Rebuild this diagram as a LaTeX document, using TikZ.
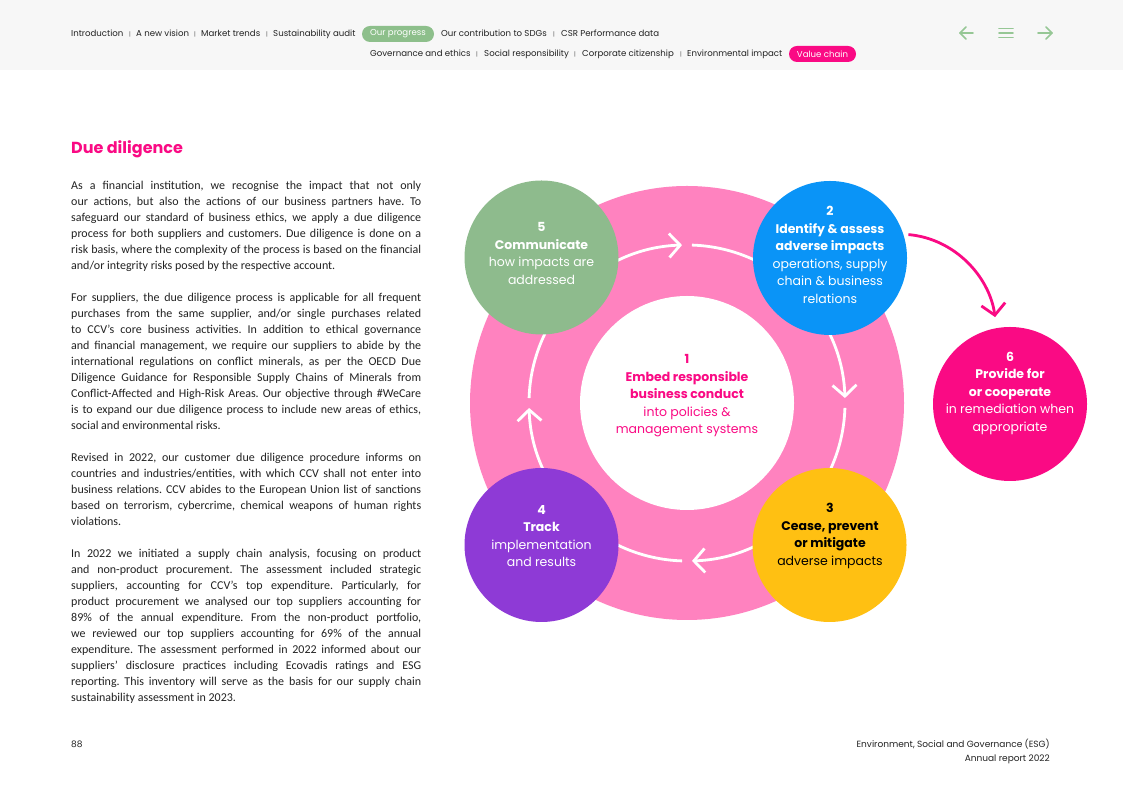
\documentclass[tikz,border=0pt]{standalone}
\usepackage{fontspec}
\setmainfont{Poppins}
\newfontfamily\bodyfont{Carlito}
\usetikzlibrary{arrows.meta}
\definecolor{ringpink}{HTML}{FF82BF}
\definecolor{cgreen}{HTML}{8EBB8D}
\definecolor{cblue}{HTML}{0A94F7}
\definecolor{cyellow}{HTML}{FFC012}
\definecolor{cpurple}{HTML}{8E3AD6}
\definecolor{cmagenta}{HTML}{FA0A84}
\definecolor{hdrbg}{HTML}{F7F7F7}
\definecolor{navgreen}{HTML}{8DBF8B}
\definecolor{icongreen}{HTML}{96C795}
\definecolor{bodytext}{HTML}{222222}
\definecolor{sepgray}{HTML}{555555}
\begin{document}
\begin{tikzpicture}[x=1pt,y=1pt,
  navtext/.style={font=\fontsize{8.6}{10}\selectfont, text=bodytext, inner sep=0, anchor=base west},
  navsep/.style={font=\fontsize{6}{7}\selectfont, text=sepgray, inner sep=0, anchor=base},
  pill/.style={rounded corners=8pt, minimum height=16pt, inner sep=0, text=white, font=\fontsize{8.6}{10}\selectfont},
  navicon/.style={draw=icongreen, line width=1.6pt, line cap=round, line join=round},
  bubble/.style={circle, minimum size=154pt, inner sep=0, draw=none},
  bubbletext/.style={align=center, inner sep=0, font=\fontsize{12.5}{17.5}\selectfont},
  ringarrow/.style={draw=white, line width=2.8pt, -{Straight Barb[length=11pt,width=24pt]}},
  pinkarrow/.style={draw=cmagenta, line width=2.8pt, -{Straight Barb[length=11pt,width=24pt]}},
  foot/.style={font=\fontsize{9}{11}\selectfont, text=bodytext, inner sep=0}
]
\useasboundingbox (0,0) rectangle (1123,794);
\fill[white] (0,0) rectangle (1123,794);
\fill[hdrbg] (0,724) rectangle (1123,794);

% header row 1
\node[navtext] (h1) at (71,757) {Introduction};
\node[navsep] (s1) at (130,757) {|};
\node[navtext] (h2) at (136,757) {A new vision};
\node[navsep] (s2) at (195,757) {|};
\node[navtext] (h3) at (201,757) {Market trends};
\node[navsep] (s3) at (267,757) {|};
\node[navtext] (h4) at (273,757) {Sustainability audit};
\node[pill, fill=navgreen, minimum width=72pt] (p1) at (398,760) {Our progress};
\node[navtext] (h5) at (441,757) {Our contribution to SDGs};
\node[navsep] (s4) at (554,757) {|};
\node[navtext] (h6) at (561,757) {CSR Performance data};
% header row 2
\node[navtext] (g1) at (370,737) {Governance and ethics};
\node[navsep] (s5) at (477,737) {|};
\node[navtext] (g2) at (484,737) {Social responsibility};
\node[navsep] (s6) at (575,737) {|};
\node[navtext] (g3) at (582,737) {Corporate citizenship};
\node[navsep] (s7) at (681,737) {|};
\node[navtext] (g4) at (687,737) {Environmental impact};
\node[pill, fill=cmagenta, minimum width=67pt] (p2) at (822.5,740) {Value chain};

% nav icons
\draw[navicon] (973,761) -- (960,761);
\draw[navicon] (966,767) -- (960,761) -- (966,755);
\draw[navicon] (999,765.5) -- (1013,765.5);
\draw[navicon] (999,761) -- (1013,761);
\draw[navicon] (999,756.5) -- (1013,756.5);
\draw[navicon] (1038,761) -- (1052,761);
\draw[navicon] (1046,767) -- (1052,761) -- (1046,755);

% title and body
\node[anchor=base west, inner sep=0, font=\fontsize{16}{19}\selectfont\bfseries, text=cmagenta] (title) at (71,640) {Due diligence};
\node[anchor=base west, inner sep=0, text=bodytext] (body) at (71,604) {\vtop{\hsize=350pt
\bodyfont\fontsize{12}{16}\selectfont\frenchspacing\parindent=0pt\tolerance=9999\hyphenpenalty=10000\exhyphenpenalty=10000
As a financial institution, we recognise the impact that not only\break
our actions, but also the actions of our business partners have. To\break
safeguard our standard of business ethics, we apply a due diligence\break
process for both suppliers and customers. Due diligence is done on a\break
risk basis, where the complexity of the process is based on the financial\break
and/or integrity risks posed by the respective account.\par\vskip16pt
For suppliers, the due diligence process is applicable for all frequent\break
purchases from the same supplier, and/or single purchases related\break
to CCV’s core business activities. In addition to ethical governance\break
and financial management, we require our suppliers to abide by the\break
international regulations on conflict minerals, as per the OECD Due\break
Diligence Guidance for Responsible Supply Chains of Minerals from\break
Conflict-Affected and High-Risk Areas. Our objective through \#WeCare\break
is to expand our due diligence process to include new areas of ethics,\break
social and environmental risks.\par\vskip16pt
Revised in 2022, our customer due diligence procedure informs on\break
countries and industries/entities, with which CCV shall not enter into\break
business relations. CCV abides to the European Union list of sanctions\break
based on terrorism, cybercrime, chemical weapons of human rights\break
violations.\par\vskip16pt
In 2022 we initiated a supply chain analysis, focusing on product\break
and non-product procurement. The assessment included strategic\break
suppliers, accounting for CCV’s top expenditure. Particularly, for\break
product procurement we analysed our top suppliers accounting for\break
89\% of the annual expenditure. From the non-product portfolio,\break
we reviewed our top suppliers accounting for 69\% of the annual\break
expenditure. The assessment performed in 2022 informed about our\break
suppliers’ disclosure practices including Ecovadis ratings and ESG\break
reporting. This inventory will serve as the basis for our supply chain\break
sustainability assessment in 2023.\par}};

% diagram
\coordinate (c) at (687,391);
\fill[ringpink] (c) circle[radius=217];
\node[bubble, fill=white, minimum size=214pt] (n1) at (c) {};
\draw[ringarrow] ([shift={(c)}]178.2:158) arc[start angle=178.2, end angle=91.8, radius=158];
\draw[ringarrow] ([shift={(c)}]88.2:158) arc[start angle=88.2, end angle=1.8, radius=158];
\draw[ringarrow] ([shift={(c)}]-1.8:158) arc[start angle=-1.8, end angle=-88.2, radius=158];
\draw[ringarrow] ([shift={(c)}]-91.8:158) arc[start angle=-91.8, end angle=-178.2, radius=158];

\node[bubble, fill=cgreen] (n5) at (541.5,536.5) {};
\node[bubble, fill=cblue] (n2) at (830,536) {};
\node[bubble, fill=cyellow] (n3) at (829.5,249) {};
\node[bubble, fill=cpurple] (n4) at (541.5,249) {};
\node[bubble, fill=cmagenta] (n6) at (1010,390) {};
\draw[pinkarrow, shorten <=5pt, shorten >=11pt] (n2.18) to[out=-5,in=98] (n6.100);

\node[bubbletext, text=cmagenta] (t1) at (687,398) {\textbf{1}\\\textbf{Embed responsible}\\\textbf{business conduct}\\into policies \&\\management systems};
\node[bubbletext, text=white] (t5) at (541.5,540.5) {\textbf{5}\\\textbf{Communicate}\\how impacts are\\addressed};
\node[bubbletext, text=white] (t2) at (830,539) {\textbf{2}\\\textbf{Identify \& assess}\\\textbf{adverse impacts}\\operations, supply\\chain \& business\\relations};
\node[bubbletext, text=black] (t3) at (830,258) {\textbf{3}\\\textbf{Cease, prevent}\\\textbf{or mitigate}\\adverse impacts};
\node[bubbletext, text=white] (t4) at (541.5,258) {\textbf{4}\\\textbf{Track}\\implementation\\and results};
\node[bubbletext, text=white] (t6) at (1010,401) {\textbf{6}\\\textbf{Provide for}\\\textbf{or cooperate}\\in remediation when\\appropriate};

% footer
\node[foot, anchor=base west] (pg) at (71,46) {88};
\node[foot, anchor=base east] (f1) at (1050,46) {Environment, Social and Governance (ESG)};
\node[foot, anchor=base east] (f2) at (1050,32) {Annual report 2022};
\end{tikzpicture}
\end{document}
